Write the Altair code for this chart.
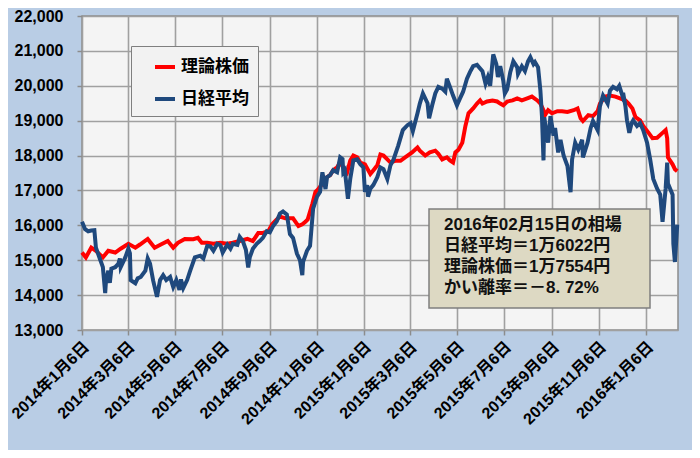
import altair as alt
import pandas as pd

SERIES_THEORY = "理論株価"
SERIES_NIKKEI = "日経平均"

# 日経平均 (date, value)
nikkei = [
    ("2014-01-06", 16100), ("2014-01-10", 15890), ("2014-01-14", 15830), ("2014-01-18", 15850),
    ("2014-01-22", 15860), ("2014-01-24", 15360), ("2014-01-29", 15050), ("2014-02-02", 14800),
    ("2014-02-05", 14060), ("2014-02-06", 14400), ("2014-02-09", 14700), ("2014-02-11", 14350),
    ("2014-02-13", 14760), ("2014-02-18", 14800), ("2014-02-22", 14900), ("2014-02-24", 15050),
    ("2014-02-25", 14800), ("2014-03-03", 15080), ("2014-03-07", 15330), ("2014-03-09", 15200),
    ("2014-03-10", 14430), ("2014-03-16", 14340), ("2014-03-19", 14480), ("2014-03-23", 14520),
    ("2014-03-29", 14700), ("2014-04-01", 15050), ("2014-04-04", 14900), ("2014-04-08", 14420),
    ("2014-04-13", 13950), ("2014-04-17", 14430), ("2014-04-21", 14570), ("2014-04-25", 14430),
    ("2014-04-30", 14520), ("2014-05-04", 14230), ("2014-05-08", 14430), ("2014-05-12", 14150),
    ("2014-05-14", 14450), ("2014-05-17", 14200), ("2014-05-22", 14430), ("2014-05-26", 14700),
    ("2014-06-01", 15080), ("2014-06-08", 15130), ("2014-06-12", 15050), ("2014-06-17", 15410),
    ("2014-06-21", 15400), ("2014-06-25", 15270), ("2014-06-30", 15470), ("2014-07-04", 15430),
    ("2014-07-07", 15220), ("2014-07-13", 15450), ("2014-07-17", 15330), ("2014-07-20", 15470),
    ("2014-07-26", 15440), ("2014-07-29", 15670), ("2014-08-02", 15550), ("2014-08-06", 15300),
    ("2014-08-09", 14790), ("2014-08-11", 15080), ("2014-08-15", 15330), ("2014-08-20", 15470),
    ("2014-08-24", 15550), ("2014-08-28", 15640), ("2014-09-02", 15830), ("2014-09-06", 15800),
    ("2014-09-10", 15970), ("2014-09-15", 16120), ("2014-09-19", 16340), ("2014-09-23", 16400),
    ("2014-09-28", 16310), ("2014-10-02", 15750), ("2014-10-06", 15640), ("2014-10-11", 15190),
    ("2014-10-15", 15000), ("2014-10-18", 14570), ("2014-10-19", 14950), ("2014-10-24", 15270),
    ("2014-10-28", 15410), ("2014-11-01", 16480), ("2014-11-06", 16820), ("2014-11-10", 16960),
    ("2014-11-13", 17520), ("2014-11-17", 17040), ("2014-11-19", 17380), ("2014-11-23", 17440),
    ("2014-11-27", 17580), ("2014-12-02", 17520), ("2014-12-06", 17950), ("2014-12-09", 17900),
    ("2014-12-10", 17520), ("2014-12-12", 17580), ("2014-12-16", 16760), ("2014-12-19", 17330),
    ("2014-12-23", 17860), ("2014-12-28", 17890), ("2015-01-01", 17750), ("2015-01-05", 17660),
    ("2015-01-07", 16960), ("2015-01-10", 17150), ("2015-01-11", 16820), ("2015-01-14", 17050),
    ("2015-01-18", 17160), ("2015-01-23", 17380), ("2015-01-27", 17660), ("2015-01-31", 17610),
    ("2015-02-05", 17330), ("2015-02-09", 17720), ("2015-02-13", 17890), ("2015-02-19", 18280),
    ("2015-02-25", 18730), ("2015-03-03", 18870), ("2015-03-07", 18930), ("2015-03-10", 18700),
    ("2015-03-16", 19210), ("2015-03-19", 19490), ("2015-03-23", 19780), ("2015-03-29", 19500),
    ("2015-03-31", 19070), ("2015-04-04", 19440), ("2015-04-08", 19780), ("2015-04-12", 19970),
    ("2015-04-17", 19920), ("2015-04-21", 19830), ("2015-04-23", 20200), ("2015-04-27", 19970),
    ("2015-05-01", 19720), ("2015-05-06", 19440), ("2015-05-10", 19640), ("2015-05-14", 19830),
    ("2015-05-19", 20200), ("2015-05-23", 20400), ("2015-05-27", 20560), ("2015-06-01", 20600),
    ("2015-06-08", 20420), ("2015-06-12", 20060), ("2015-06-15", 20250), ("2015-06-18", 20000),
    ("2015-06-22", 20900), ("2015-06-26", 20620), ("2015-06-28", 20250), ("2015-07-01", 20560),
    ("2015-07-05", 20140), ("2015-07-07", 19780), ("2015-07-10", 19900), ("2015-07-14", 20390),
    ("2015-07-18", 20700), ("2015-07-23", 20530), ("2015-07-24", 20340), ("2015-07-29", 20560),
    ("2015-08-02", 20420), ("2015-08-06", 20700), ("2015-08-09", 20820), ("2015-08-13", 20620),
    ("2015-08-15", 20680), ("2015-08-19", 20530), ("2015-08-22", 19860), ("2015-08-24", 19130),
    ("2015-08-26", 17860), ("2015-08-27", 19100), ("2015-08-30", 18650), ("2015-09-01", 18370),
    ("2015-09-04", 19130), ("2015-09-08", 18570), ("2015-09-10", 18790), ("2015-09-14", 18090),
    ("2015-09-17", 18450), ("2015-09-21", 18000), ("2015-09-26", 17700), ("2015-09-30", 16950),
    ("2015-10-02", 17890), ("2015-10-06", 18370), ("2015-10-10", 18170), ("2015-10-15", 18450),
    ("2015-10-16", 17950), ("2015-10-22", 18370), ("2015-10-26", 18790), ("2015-10-29", 18990),
    ("2015-11-04", 18730), ("2015-11-07", 19410), ("2015-11-11", 19720), ("2015-11-17", 19490),
    ("2015-11-20", 19860), ("2015-11-24", 19970), ("2015-11-29", 19900), ("2015-12-02", 20000),
    ("2015-12-06", 19720), ("2015-12-07", 19800), ("2015-12-10", 19410), ("2015-12-12", 19010),
    ("2015-12-15", 18650), ("2015-12-18", 18930), ("2015-12-20", 19010), ("2015-12-25", 18850),
    ("2015-12-29", 18930), ("2016-01-02", 18730), ("2016-01-07", 18370), ("2016-01-11", 17890),
    ("2016-01-15", 17330), ("2016-01-20", 17050), ("2016-01-24", 16880), ("2016-01-27", 16100),
    ("2016-01-31", 17050), ("2016-02-02", 17800), ("2016-02-03", 17200), ("2016-02-09", 16880),
    ("2016-02-10", 15470), ("2016-02-12", 14950), ("2016-02-15", 16022),
]

# 理論株価 (date, value)
theory = [
    ("2014-01-06", 15220), ("2014-01-11", 15080), ("2014-01-18", 15360), ("2014-01-24", 15270),
    ("2014-02-02", 15080), ("2014-02-09", 15270), ("2014-02-18", 15220), ("2014-02-25", 15330),
    ("2014-03-07", 15470), ("2014-03-16", 15360), ("2014-03-22", 15450), ("2014-04-01", 15610),
    ("2014-04-10", 15360), ("2014-04-18", 15450), ("2014-04-27", 15550), ("2014-05-04", 15360),
    ("2014-05-10", 15500), ("2014-05-19", 15610), ("2014-05-30", 15600), ("2014-06-05", 15640),
    ("2014-06-10", 15500), ("2014-06-17", 15500), ("2014-06-25", 15470), ("2014-07-04", 15500),
    ("2014-07-13", 15470), ("2014-07-20", 15500), ("2014-07-29", 15550), ("2014-08-08", 15610),
    ("2014-08-15", 15550), ("2014-08-22", 15780), ("2014-08-28", 15780), ("2014-09-04", 15830),
    ("2014-09-09", 16030), ("2014-09-15", 16170), ("2014-09-19", 16250), ("2014-09-26", 16200),
    ("2014-10-02", 16200), ("2014-10-06", 16200), ("2014-10-13", 15980), ("2014-10-18", 16030),
    ("2014-10-22", 16100), ("2014-10-25", 16170), ("2014-10-31", 16620), ("2014-11-04", 16960),
    ("2014-11-07", 17020), ("2014-11-13", 17190), ("2014-11-19", 17380), ("2014-11-23", 17440),
    ("2014-11-27", 17580), ("2014-12-02", 17660), ("2014-12-06", 17800), ("2014-12-10", 17660),
    ("2014-12-15", 17520), ("2014-12-19", 17860), ("2014-12-23", 18000), ("2014-12-28", 17950),
    ("2015-01-01", 17800), ("2015-01-07", 17750), ("2015-01-14", 17470), ("2015-01-18", 17580),
    ("2015-01-23", 17720), ("2015-01-27", 18030), ("2015-01-31", 18000), ("2015-02-05", 17890),
    ("2015-02-09", 17800), ("2015-02-15", 17850), ("2015-02-22", 17850), ("2015-02-28", 17950),
    ("2015-03-09", 18090), ("2015-03-16", 18230), ("2015-03-19", 18140), ("2015-03-26", 18000),
    ("2015-04-01", 18090), ("2015-04-08", 18140), ("2015-04-12", 18050), ("2015-04-17", 17890),
    ("2015-04-23", 17950), ("2015-04-27", 17860), ("2015-05-01", 17800), ("2015-05-04", 18090),
    ("2015-05-08", 18170), ("2015-05-13", 18370), ("2015-05-17", 18850), ("2015-05-21", 19210),
    ("2015-05-27", 19350), ("2015-06-01", 19490), ("2015-06-05", 19580), ("2015-06-08", 19490),
    ("2015-06-14", 19550), ("2015-06-21", 19580), ("2015-06-27", 19550), ("2015-07-01", 19490),
    ("2015-07-05", 19440), ("2015-07-10", 19550), ("2015-07-17", 19580), ("2015-07-23", 19640),
    ("2015-07-29", 19580), ("2015-08-05", 19640), ("2015-08-11", 19690), ("2015-08-18", 19580),
    ("2015-08-22", 19490), ("2015-08-26", 19300), ("2015-08-28", 19160), ("2015-09-01", 19300),
    ("2015-09-06", 19210), ("2015-09-13", 19270), ("2015-09-19", 19270), ("2015-09-26", 19250),
    ("2015-10-04", 19300), ("2015-10-09", 19350), ("2015-10-13", 19070), ("2015-10-16", 18990),
    ("2015-10-23", 19160), ("2015-10-29", 19130), ("2015-11-04", 19270), ("2015-11-07", 19490),
    ("2015-11-14", 19690), ("2015-11-20", 19720), ("2015-11-27", 19690), ("2015-12-03", 19640),
    ("2015-12-10", 19580), ("2015-12-14", 19490), ("2015-12-19", 19350), ("2015-12-23", 19100),
    ("2015-12-29", 19010), ("2016-01-02", 18850), ("2016-01-09", 18650), ("2016-01-14", 18500),
    ("2016-01-20", 18510), ("2016-01-27", 18650), ("2016-01-31", 18730), ("2016-02-02", 18500),
    ("2016-02-03", 17950), ("2016-02-09", 17750), ("2016-02-12", 17610), ("2016-02-15", 17554),
]

tick_dates = ["2014-01-06", "2014-03-06", "2014-05-06", "2014-07-06", "2014-09-06",
              "2014-11-06", "2015-01-06", "2015-03-06", "2015-05-06", "2015-07-06",
              "2015-09-06", "2015-11-06", "2016-01-06"]
x_domain = ["2014-01-06", "2016-02-16"]
y_ticks = [13000, 14000, 15000, 16000, 17000, 18000, 19000, 20000, 21000, 22000]

note_lines = ["2016年02月15日の相場", "日経平均＝1万6022円", "理論株価＝1万7554円", "かい離率＝－8. 72%"]

FONT = "'Liberation Sans', 'Noto Sans CJK JP', sans-serif"


def dt(s):
    return alt.DateTime(year=int(s[:4]), month=int(s[5:7]), date=int(s[8:10]))


def frame(pairs, name):
    return pd.DataFrame({"date": [d + "T00:00:00" for d, _ in pairs],
                         "value": [v for _, v in pairs],
                         "series": name})


df_theory = frame(theory, SERIES_THEORY)
df_nikkei = frame(nikkei, SERIES_NIKKEI)

x_enc = alt.X(
    "date:T",
    title=None,
    scale=alt.Scale(domain=[dt(x_domain[0]), dt(x_domain[1])]),
    axis=alt.Axis(values=[dt(s) for s in tick_dates], format="%Y年%-m月%-d日",
                  labelAngle=-45, labelAlign="right", labelBaseline="middle",
                  labelFontSize=16, labelFontWeight="bold", labelFont=FONT,
                  labelColor="#000000", labelPadding=9, labelOffset=4, tickSize=5,
                  tickColor="#8c8c8c", tickWidth=1.5, domain=False,
                  grid=True, gridColor="#a0a0a0", gridWidth=1.6, labelOverlap=False),
)
y_enc = alt.Y(
    "value:Q",
    title=None,
    scale=alt.Scale(domain=[13000, 22000], nice=False, zero=False),
    axis=alt.Axis(values=y_ticks, format=",d", labelFontSize=16, labelFontWeight="bold",
                  labelFont=FONT, labelColor="#000000", labelPadding=14, tickSize=5,
                  tickColor="#8c8c8c", tickWidth=1.5, domain=False,
                  grid=True, gridColor="#a0a0a0", gridWidth=1.6),
)
color_enc = alt.Color(
    "series:N",
    scale=alt.Scale(domain=[SERIES_THEORY, SERIES_NIKKEI], range=["#ff0000", "#1f497d"]),
    legend=alt.Legend(title=None, orient="none", legendX=49, legendY=30,
                      direction="vertical", fillColor="#f2f2f2", strokeColor="#7f7f7f",
                      padding=9, symbolType="stroke", symbolStrokeWidth=4,
                      symbolSize=400, symbolOffset=13, labelFontSize=17,
                      labelFontWeight="bold", labelFont=FONT, labelColor="#000000",
                      rowPadding=12, labelOffset=4),
)

red_line = alt.Chart(df_theory).mark_line(strokeWidth=4).encode(x=x_enc, y=y_enc, color=color_enc)
blue_line = alt.Chart(df_nikkei).mark_line(strokeWidth=4).encode(x=x_enc, y=y_enc, color=color_enc)

note_df = pd.DataFrame({"k": [0]})
note_box = alt.Chart(note_df).mark_rect(fill="#ddd9c3", stroke="#7f7f7f", strokeWidth=1.5).encode(
    x=alt.value(347), x2=alt.value(568), y=alt.value(193), y2=alt.value(292)
)
note_text = alt.Chart(note_df).mark_text(
    text=note_lines, align="left", baseline="top", fontSize=17, fontWeight="bold",
    font=FONT, color="#111111", lineHeight=21
).encode(x=alt.value(362), y=alt.value(201))

chart = alt.layer(red_line, blue_line, note_box, note_text).properties(
    width=596, height=314,
    autosize=alt.AutoSizeParams(type="none"),
    padding={"left": 74, "top": 8, "right": 14, "bottom": 120},
    background="#b9cde5",
).configure_view(fill="#f4f4f4", stroke="#8c8c8c", strokeWidth=1.5)

chart.save("out.html", embed_options={"renderer": "svg", "actions": False})
